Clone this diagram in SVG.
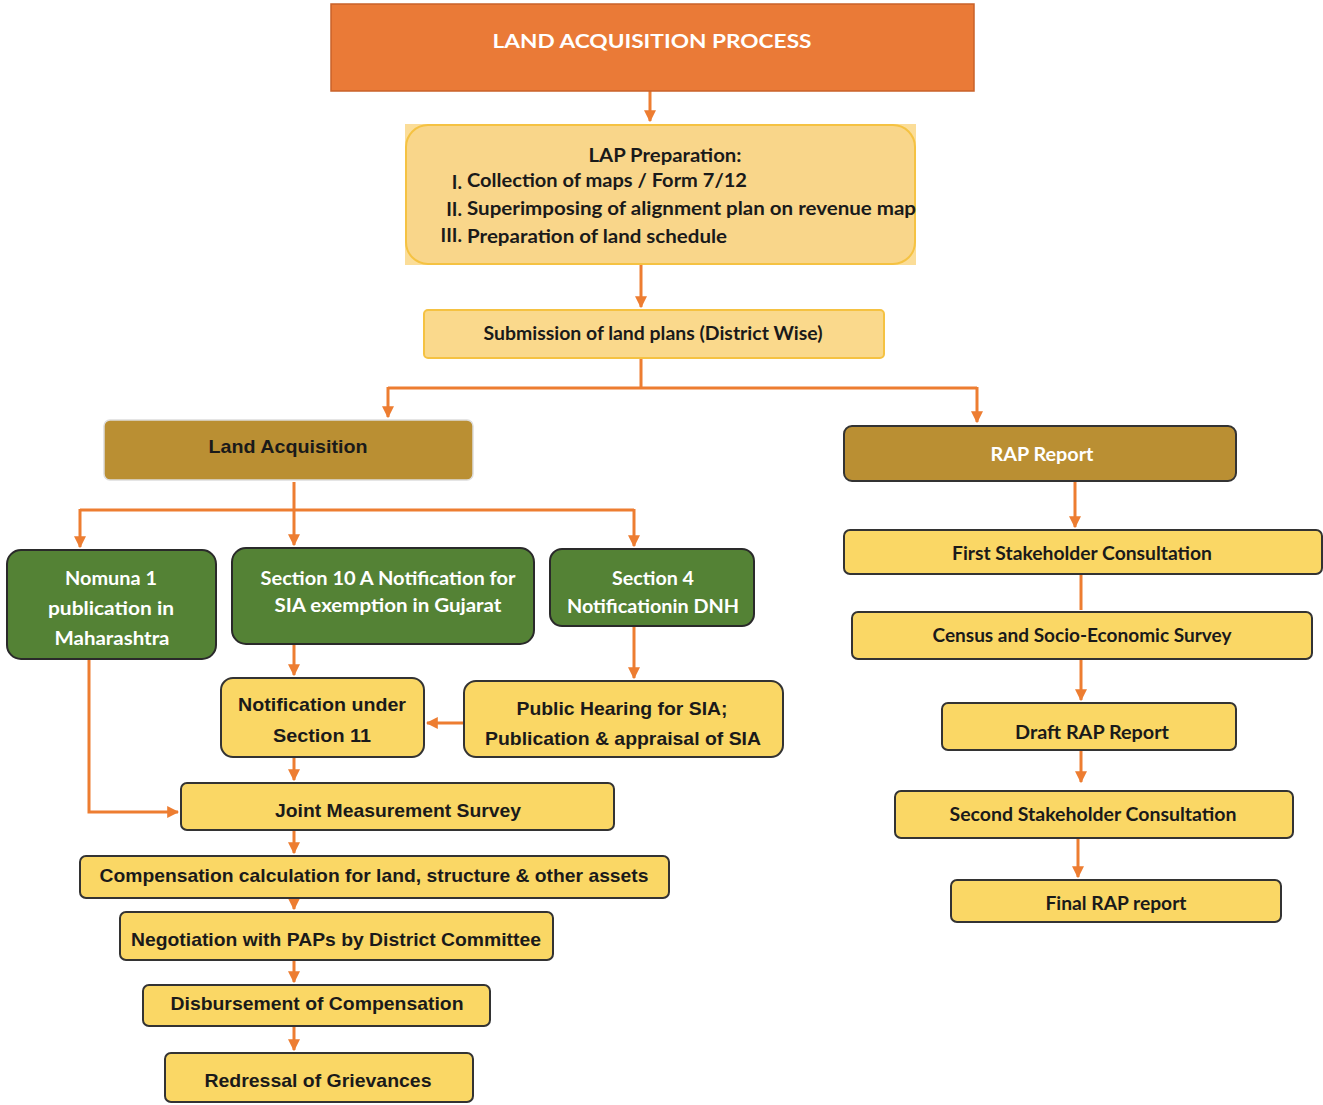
<svg xmlns="http://www.w3.org/2000/svg" width="1323" height="1105" viewBox="0 0 1323 1105">
<defs>
<marker id="ah" viewBox="0 0 10 10" refX="9" refY="5" markerWidth="4" markerHeight="4" orient="auto" markerUnits="strokeWidth">
<path d="M0,0 L10,5 L0,10 z" fill="#ED7D31"/>
</marker>
</defs>
<style>
.c{fill:none;stroke:#ED7D31;stroke-width:3}
.y{fill:#FAD765;stroke:#333;stroke-width:2}
.g{fill:#548235;stroke:#2a2a2a;stroke-width:2}
.b{fill:#BA8F33}
.ca{font-family:Lato,"Open Sans","Liberation Sans",sans-serif;font-weight:bold;font-size:19px;fill:#1a1a1a}
.ar{font-family:"Liberation Sans",Arial,sans-serif;font-weight:bold;font-size:19px;fill:#1a1a1a}
.w{fill:#fff}
text{text-anchor:middle}
</style>
<rect width="1323" height="1105" fill="#fff"/>

<g id="connectors">
<path class="c" d="M650,91 V121" marker-end="url(#ah)"/>
<path class="c" d="M641,265 V307" marker-end="url(#ah)"/>
<path class="c" d="M641,358 V388 M388,388 H977"/>
<path class="c" d="M388,387 V417" marker-end="url(#ah)"/>
<path class="c" d="M977,387 V422" marker-end="url(#ah)"/>
<path class="c" d="M294,482 V510 M80,510 H634"/>
<path class="c" d="M80,509 V547" marker-end="url(#ah)"/>
<path class="c" d="M294,509 V545" marker-end="url(#ah)"/>
<path class="c" d="M634,509 V546" marker-end="url(#ah)"/>
<path class="c" d="M294,644 V675" marker-end="url(#ah)"/>
<path class="c" d="M634,626 V678" marker-end="url(#ah)"/>
<path class="c" d="M464,723 H427" marker-end="url(#ah)"/>
<path class="c" d="M89,659 V812 H178" marker-end="url(#ah)"/>
<path class="c" d="M294,757 V780" marker-end="url(#ah)"/>
<path class="c" d="M294,830 V853" marker-end="url(#ah)"/>
<path class="c" d="M294,898 V909" marker-end="url(#ah)"/>
<path class="c" d="M294,960 V982" marker-end="url(#ah)"/>
<path class="c" d="M294,1026 V1050" marker-end="url(#ah)"/>
<path class="c" d="M1075,481 V527" marker-end="url(#ah)"/>
<path class="c" d="M1081,574 V610"/>
<path class="c" d="M1081,659 V700" marker-end="url(#ah)"/>
<path class="c" d="M1081,750 V782" marker-end="url(#ah)"/>
<path class="c" d="M1078,838 V877" marker-end="url(#ah)"/>
</g>

<g id="n-title">
<rect x="331" y="4" width="643" height="87" fill="#EA7A37" stroke="#C9622A" stroke-width="1.5"/>
<text class="ca w" x="652" y="48" font-size="24" textLength="319" lengthAdjust="spacingAndGlyphs">LAND ACQUISITION PROCESS</text>
</g>

<g id="n-lap">
<rect x="405" y="124" width="511" height="141" fill="#FBDD98"/>
<rect x="406" y="125" width="509" height="139" rx="22" fill="#F9D68A" stroke="#F5C242" stroke-width="2"/>
<text class="ca" x="665" y="162" textLength="153" lengthAdjust="spacingAndGlyphs">LAP Preparation:</text>
<text class="ca" x="462" y="189" font-size="17" style="text-anchor:end">I.</text>
<text class="ca" x="462" y="216" font-size="17" style="text-anchor:end">II.</text>
<text class="ca" x="462" y="242" font-size="17" style="text-anchor:end">III.</text>
<text class="ca" x="467" y="187" style="text-anchor:start" textLength="280" lengthAdjust="spacingAndGlyphs">Collection of maps / Form 7/12</text>
<text class="ca" x="467" y="215" style="text-anchor:start" textLength="449" lengthAdjust="spacingAndGlyphs">Superimposing of alignment plan on revenue map</text>
<text class="ca" x="467" y="243" style="text-anchor:start" textLength="260" lengthAdjust="spacingAndGlyphs">Preparation of land schedule</text>
</g>

<g id="n-submission">
<rect x="424" y="310" width="460" height="48" rx="4" fill="#FAD98C" stroke="#F5C242" stroke-width="2"/>
<text class="ca" x="653" y="340" textLength="339" lengthAdjust="spacingAndGlyphs">Submission of land plans (District Wise)</text>
</g>

<g id="n-land-acquisition">
<rect x="104" y="420" width="369" height="60" rx="6" class="b" stroke="#ddd" stroke-width="1.5"/>
<text class="ar" x="288" y="453" textLength="159" lengthAdjust="spacingAndGlyphs">Land Acquisition</text>
</g>

<g id="n-rap-report">
<rect x="844" y="426" width="392" height="55" rx="8" class="b" stroke="#333" stroke-width="2"/>
<text class="ca w" x="1042" y="461" textLength="103" lengthAdjust="spacingAndGlyphs">RAP Report</text>
</g>

<g id="n-nomuna">
<rect x="7" y="550" width="209" height="109" rx="14" class="g"/>
<text class="ca w" x="111" y="585" textLength="92" lengthAdjust="spacingAndGlyphs">Nomuna 1</text>
<text class="ca w" x="111" y="615" textLength="126" lengthAdjust="spacingAndGlyphs">publication in</text>
<text class="ca w" x="112" y="645" textLength="115" lengthAdjust="spacingAndGlyphs">Maharashtra</text>
</g>

<g id="n-section10a">
<rect x="232" y="548" width="302" height="96" rx="14" class="g"/>
<text class="ca w" x="388" y="585" textLength="255" lengthAdjust="spacingAndGlyphs">Section 10 A Notification for</text>
<text class="ca w" x="388" y="612" textLength="227" lengthAdjust="spacingAndGlyphs">SIA exemption in Gujarat</text>
</g>

<g id="n-section4">
<rect x="550" y="549" width="204" height="77" rx="12" class="g"/>
<text class="ca w" x="653" y="585" textLength="82" lengthAdjust="spacingAndGlyphs">Section 4</text>
<text class="ca w" x="653" y="613" textLength="172" lengthAdjust="spacingAndGlyphs">Notificationin DNH</text>
</g>

<g id="n-section11">
<rect x="221" y="678" width="203" height="79" rx="12" class="y"/>
<text class="ar" x="322" y="711" textLength="168" lengthAdjust="spacingAndGlyphs">Notification under</text>
<text class="ar" x="322" y="742" textLength="98" lengthAdjust="spacingAndGlyphs">Section 11</text>
</g>

<g id="n-public-hearing">
<rect x="464" y="681" width="319" height="76" rx="12" class="y"/>
<text class="ar" x="622" y="715" textLength="211" lengthAdjust="spacingAndGlyphs">Public Hearing for SIA;</text>
<text class="ar" x="623" y="745" textLength="276" lengthAdjust="spacingAndGlyphs">Publication &amp; appraisal of SIA</text>
</g>

<g id="n-jms">
<rect x="181" y="783" width="433" height="47" rx="6" class="y"/>
<text class="ar" x="398" y="817" textLength="246" lengthAdjust="spacingAndGlyphs">Joint Measurement Survey</text>
</g>

<g id="n-compensation">
<rect x="80" y="856" width="589" height="42" rx="6" class="y"/>
<text class="ar" x="374" y="882" textLength="549" lengthAdjust="spacingAndGlyphs">Compensation calculation for land, structure &amp; other assets</text>
</g>

<g id="n-negotiation">
<rect x="120" y="912" width="433" height="48" rx="6" class="y"/>
<text class="ar" x="336" y="946" textLength="410" lengthAdjust="spacingAndGlyphs">Negotiation with PAPs by District Committee</text>
</g>

<g id="n-disbursement">
<rect x="143" y="985" width="347" height="41" rx="6" class="y"/>
<text class="ar" x="317" y="1010" textLength="293" lengthAdjust="spacingAndGlyphs">Disbursement of Compensation</text>
</g>

<g id="n-redressal">
<rect x="165" y="1053" width="308" height="49" rx="6" class="y"/>
<text class="ar" x="318" y="1087" textLength="227" lengthAdjust="spacingAndGlyphs">Redressal of Grievances</text>
</g>

<g id="n-first-stakeholder">
<rect x="844" y="530" width="478" height="44" rx="6" class="y"/>
<text class="ca" x="1082" y="560" textLength="260" lengthAdjust="spacingAndGlyphs">First Stakeholder Consultation</text>
</g>

<g id="n-census">
<rect x="852" y="612" width="460" height="47" rx="6" class="y"/>
<text class="ca" x="1082" y="642" textLength="299" lengthAdjust="spacingAndGlyphs">Census and Socio-Economic Survey</text>
</g>

<g id="n-draft-rap">
<rect x="942" y="703" width="294" height="47" rx="6" class="y"/>
<text class="ca" x="1092" y="739" textLength="154" lengthAdjust="spacingAndGlyphs">Draft RAP Report</text>
</g>

<g id="n-second-stakeholder">
<rect x="895" y="791" width="398" height="47" rx="6" class="y"/>
<text class="ca" x="1093" y="821" textLength="287" lengthAdjust="spacingAndGlyphs">Second Stakeholder Consultation</text>
</g>

<g id="n-final-rap">
<rect x="951" y="880" width="330" height="42" rx="6" class="y"/>
<text class="ca" x="1116" y="910" textLength="141" lengthAdjust="spacingAndGlyphs">Final RAP report</text>
</g>
</svg>
